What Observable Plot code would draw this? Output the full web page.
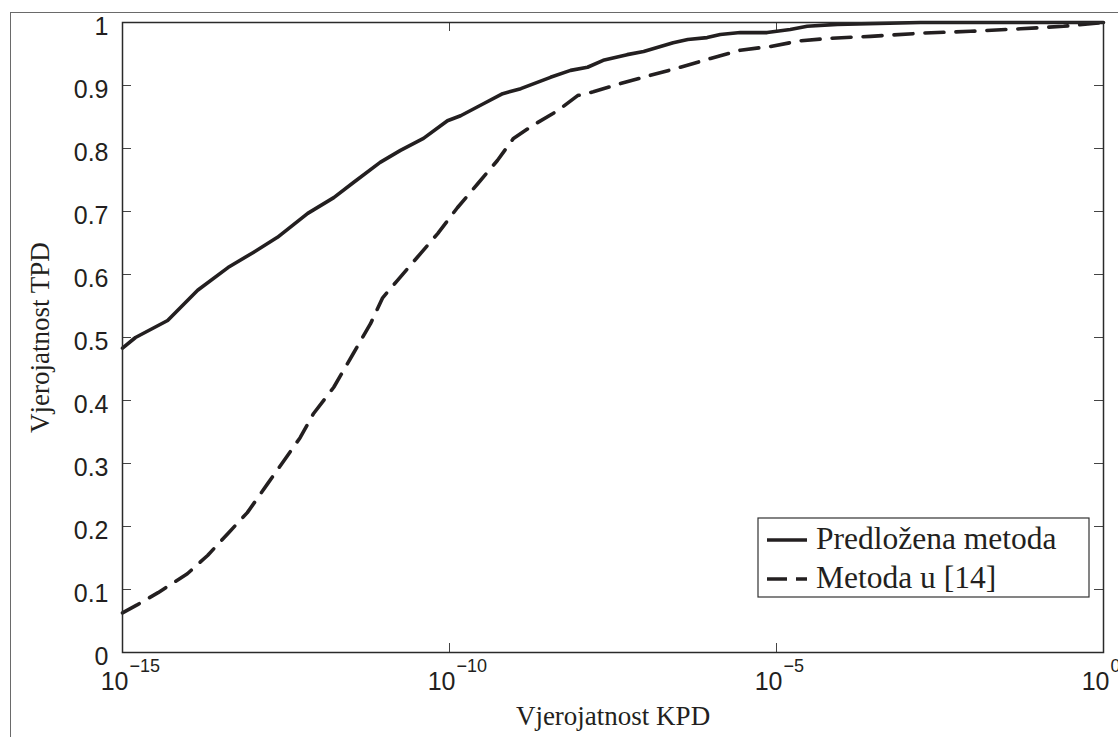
<!DOCTYPE html>
<html><head><meta charset="utf-8">
<script src="https://cdn.jsdelivr.net/npm/d3@7"></script>
<script src="https://cdn.jsdelivr.net/npm/@observablehq/plot@0.6"></script>
<style>
body{margin:0;background:#fff;}
#wrap{position:relative;width:1118px;height:737px;overflow:hidden;background:#fff;}
#outer{position:absolute;left:10px;top:12px;width:2000px;height:2000px;border-left:1px solid #6a6a6a;border-top:1px solid #6a6a6a;pointer-events:none;}
#chart{position:absolute;left:0;top:0;}
</style></head><body><div id="wrap"><div id="chart"></div><div id="outer"></div></div>
<script>
// Series names
const seriesNames = ["Predložena metoda", "Metoda u [14]"];
// Proposed method (solid)
const kpdSolid = [1e-15, 1.58e-15, 4.9e-15, 1.41e-14, 4.1e-14, 1e-13, 2.34e-13, 6.8e-13, 1.7e-12, 3.4e-12, 8.7e-12, 1.78e-11, 4.0e-11, 9.3e-11, 1.48e-10, 3.3e-10, 6.5e-10, 1.23e-9, 3.5e-9, 7.1e-9, 1.29e-8, 2.24e-8, 5.2e-8, 9.3e-8, 2.63e-7, 4.4e-7, 8.7e-7, 1.38e-6, 2.8e-6, 7.2e-6, 1.62e-5, 2.95e-5, 8.5e-5, 1.6e-3, 1];
const tpdSolid = [0.483, 0.500, 0.527, 0.575, 0.611, 0.635, 0.659, 0.697, 0.722, 0.746, 0.778, 0.797, 0.816, 0.844, 0.852, 0.871, 0.887, 0.895, 0.913, 0.924, 0.929, 0.940, 0.949, 0.954, 0.968, 0.973, 0.976, 0.981, 0.984, 0.984, 0.989, 0.994, 0.997, 1.0, 1.0];
// Method in [14] (dashed)
const kpdDashed = [1e-15, 1.7e-15, 3.5e-15, 9.8e-15, 2.0e-14, 4.1e-14, 8.1e-14, 1.66e-13, 5.2e-13, 8.3e-13, 1.7e-12, 3.4e-12, 6.2e-12, 9.5e-12, 1.58e-11, 3.2e-11, 6.6e-11, 1.32e-10, 2.7e-10, 5.4e-10, 9.5e-10, 1.9e-9, 4.5e-9, 9.1e-9, 1.58e-8, 4.1e-8, 1.17e-7, 3.4e-7, 9.8e-7, 2.8e-6, 8.1e-6, 2.34e-5, 6.8e-5, 2.75e-4, 1.58e-3, 9.3e-3, 5.4e-2, 0.245, 1];
const tpdDashed = [0.063, 0.076, 0.095, 0.125, 0.154, 0.189, 0.222, 0.268, 0.341, 0.379, 0.421, 0.475, 0.522, 0.563, 0.590, 0.627, 0.665, 0.706, 0.744, 0.781, 0.816, 0.837, 0.860, 0.884, 0.890, 0.903, 0.916, 0.929, 0.943, 0.956, 0.962, 0.971, 0.975, 0.978, 0.983, 0.986, 0.990, 0.994, 1.0];
// Axes
const xTicks = [1e-15, 1e-10, 1e-5, 1];
const xTickBase = ["10", "10", "10", "10"];
const xTickExp = ["\u221215", "\u221210", "\u22125", "0"];
const yTicks = [0, 0.1, 0.2, 0.3, 0.4, 0.5, 0.6, 0.7, 0.8, 0.9, 1];
const yTickLabels = ["0", "0.1", "0.2", "0.3", "0.4", "0.5", "0.6", "0.7", "0.8", "0.9", "1"];
const xLabel = "Vjerojatnost KPD";
const yLabel = "Vjerojatnost TPD";

const solid = kpdSolid.map((x, i) => ({x, y: tpdSolid[i]}));
const dashed = kpdDashed.map((x, i) => ({x, y: tpdDashed[i]}));

const W = 1118, H = 737, mL = 122, mR = 15, mT = 22, mB = 85;
const innerW = W - mL - mR, innerH = H - mT - mB;
const ink = "#231f20";
const sans = "'Liberation Sans', Arial, sans-serif";
const serif = "'Liberation Serif', 'Times New Roman', serif";
const tickLen = 9;

const plot = Plot.plot({
  width: W, height: H,
  marginLeft: mL, marginRight: mR, marginTop: mT, marginBottom: mB,
  style: {fontFamily: sans, fontSize: "24px", background: "transparent", overflow: "hidden"},
  x: {type: "log", domain: [1e-15, 1], axis: null},
  y: {domain: [0, 1], axis: null},
  marks: [
    // ticks, pointing inward on all four sides
    Plot.tickX(xTicks, {x: d => d, insetTop: innerH - tickLen, stroke: "#444", strokeWidth: 1}),
    Plot.tickX(xTicks, {x: d => d, insetBottom: innerH - tickLen, stroke: "#444", strokeWidth: 1}),
    Plot.tickY(yTicks, {y: d => d, insetRight: innerW - tickLen, stroke: "#444", strokeWidth: 1}),
    Plot.tickY(yTicks, {y: d => d, insetLeft: innerW - tickLen, stroke: "#444", strokeWidth: 1}),
    // y tick labels
    Plot.text(yTicks, {y: d => d, frameAnchor: "left", text: (d, i) => yTickLabels[i], textAnchor: "end", lineAnchor: "middle", dx: -14, dy: 4, fontSize: 25, fontFamily: sans, fill: ink}),
    // x tick labels: base + superscript exponent
    Plot.text(xTicks, {x: d => d, frameAnchor: "bottom", text: (d, i) => xTickBase[i], textAnchor: "end", lineAnchor: "middle", dx: 6, dy: 29, fontSize: 25, fontFamily: sans, fill: ink}),
    Plot.text(xTicks, {x: d => d, frameAnchor: "bottom", text: (d, i) => xTickExp[i], textAnchor: "start", lineAnchor: "middle", dx: 7, dy: 14, fontSize: 18, fontFamily: sans, fill: ink}),
    // axis labels
    Plot.text([xLabel], {frameAnchor: "bottom", text: d => d, textAnchor: "middle", lineAnchor: "middle", dy: 64, fontSize: 27, fontFamily: serif, fill: ink}),
    Plot.text([yLabel], {frameAnchor: "left", text: d => d, textAnchor: "middle", lineAnchor: "middle", rotate: -90, dx: -82, fontSize: 27, fontFamily: serif, fill: ink}),
    // data
    Plot.line(dashed, {x: "x", y: "y", stroke: ink, strokeWidth: 3.6, strokeDasharray: "19,12", strokeLinejoin: "round"}),
    Plot.line(solid, {x: "x", y: "y", stroke: ink, strokeWidth: 3.6, strokeLinejoin: "round"}),
    Plot.frame({stroke: "#2a2a2a", strokeWidth: 1.5})
  ]
});
document.getElementById("chart").appendChild(plot);

// legend
const svg = d3.select(plot);
const lg = svg.append("g").attr("transform", "translate(758,518)");
lg.append("rect").attr("width", 331).attr("height", 79).attr("fill", "#fff").attr("stroke", "#333").attr("stroke-width", 1.2);
lg.append("line").attr("x1", 9).attr("x2", 49).attr("y1", 22).attr("y2", 22).attr("stroke", ink).attr("stroke-width", 3.6);
lg.append("line").attr("x1", 9).attr("x2", 49).attr("y1", 61).attr("y2", 61).attr("stroke", ink).attr("stroke-width", 3.6).attr("stroke-dasharray", "20,9");
lg.append("text").attr("x", 58).attr("y", 31).attr("text-anchor", "start").attr("font-family", serif).attr("font-size", 31.5).attr("fill", ink).text(seriesNames[0]);
lg.append("text").attr("x", 58).attr("y", 70).attr("text-anchor", "start").attr("font-family", serif).attr("font-size", 31.5).attr("fill", ink).text(seriesNames[1]);
</script></body></html>
